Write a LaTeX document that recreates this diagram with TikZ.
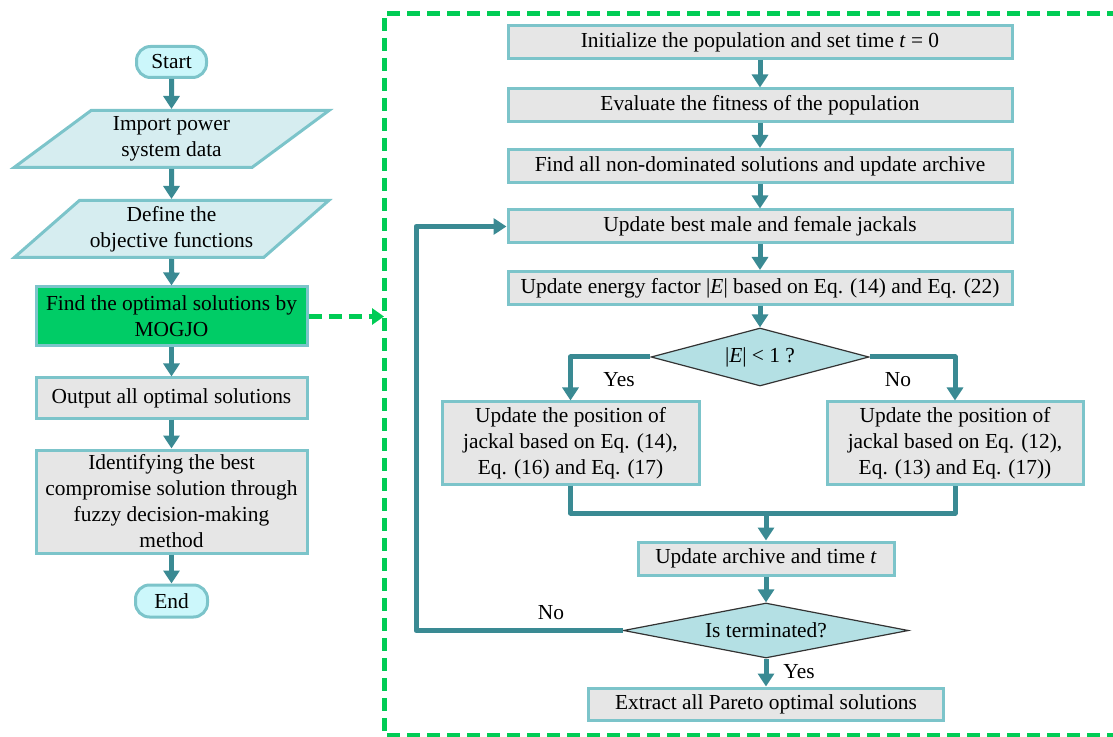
\documentclass[tikz,border=0pt]{standalone}
\usepackage{fontspec}
\setmainfont{Liberation Serif}
\usepackage{tikz}
\usetikzlibrary{shapes.geometric, arrows.meta}
\definecolor{flow}{RGB}{58,138,147}
\definecolor{rim}{RGB}{124,196,202}
\definecolor{boxfill}{RGB}{230,230,230}
\definecolor{parafill}{RGB}{214,237,240}
\definecolor{termfill}{RGB}{204,247,251}
\definecolor{decfill}{RGB}{180,224,228}
\definecolor{mogreen}{RGB}{0,204,102}
\definecolor{dashgreen}{RGB}{0,204,85}

\begin{document}
\begin{tikzpicture}[x=0.5pt, y=-0.5pt,
    every node/.style={font=\fontsize{10.7}{13}\selectfont, align=center, inner sep=1pt},
    stepbox/.style={draw=rim, line width=1.5pt, fill=boxfill, rectangle, minimum height=16.5pt},
    termbox/.style={draw=rim, line width=1.5pt, fill=termfill, rounded corners=7pt, minimum height=15.5pt},
    iobox/.style={draw=rim, line width=1.5pt, fill=parafill, trapezium, trapezium left angle=40,
        trapezium right angle=140, trapezium stretches=true, minimum width=157.5pt, minimum height=28.5pt},
    decide/.style={draw=black!80, line width=0.6pt, fill=decfill, diamond, inner sep=0pt},
    flowline/.style={draw=flow, line width=2.5pt},
    flowarrow/.style={flowline, -{Triangle[width=8pt, length=6.5pt]}},
    tag/.style={inner sep=0pt}]
    \useasboundingbox (0,0) rectangle (1113,737);

    % left column: main procedure
    \node[termbox, minimum width=35pt] (start) at (171.5,62) {Start};
    \node[iobox] (import) at (171.5,139) {Import power\\system data};
    \node[iobox] (define) at (171.5,229) {Define the\\objective functions};
    \node[stepbox, fill=mogreen, minimum width=135.5pt, minimum height=29.5pt] (mogjo) at (171.5,316.5)
        {Find the optimal solutions by\\MOGJO};
    \node[stepbox, minimum width=135.5pt, minimum height=20pt] (output) at (171.5,398) {Output all optimal solutions};
    \node[stepbox, minimum width=135.5pt, minimum height=51.5pt] (ident) at (171.5,501.5)
        {Identifying the best\\compromise solution through\\fuzzy decision-making\\method};
    \node[termbox, minimum width=36pt, minimum height=16pt] (end) at (171.5,601) {End};

    \foreach \a/\b in {start/import, import/define, define/mogjo, mogjo/output, output/ident, ident/end}
        \draw[flowarrow] (\a) -- (\b);

    % right column: MOGJO
    \draw[dashgreen, line width=2.5pt, dash pattern=on 6.5pt off 3.5pt] (1120,14) -- (384,14) -- (384,735) -- (1120,735);
    \coordinate (frame) at (384,316.5);
    \draw[dashgreen, line width=2.5pt, dash pattern=on 6.5pt off 3.5pt, -{Triangle[width=8pt, length=6pt]}] (mogjo) -- (frame);

    \node[stepbox, minimum width=252pt] (init) at (760,42) {Initialize the population and set time \textit{t} = 0};
    \node[stepbox, minimum width=252pt] (eval) at (760,105.5) {Evaluate the fitness of the population};
    \node[stepbox, minimum width=252pt] (find) at (760,166) {Find all non-dominated solutions and update archive};
    \node[stepbox, minimum width=252pt] (best) at (760,226.5) {Update best male and female jackals};
    \node[stepbox, minimum width=252pt] (energy) at (760,288) {Update energy factor |\textit{E}| based on Eq. (14) and Eq. (22)};
    \node[decide, aspect=3.76, minimum width=109pt, minimum height=29pt] (isE) at (760,357) {|\textit{E}| {\textless} 1 ?};
    \node[stepbox, minimum width=128.5pt, minimum height=41pt] (left) at (570.5,443)
        {Update the position of\\jackal based on Eq. (14),\\Eq. (16) and Eq. (17)};
    \node[stepbox, minimum width=128pt, minimum height=41pt] (right) at (955,443)
        {Update the position of\\jackal based on Eq. (12),\\Eq. (13) and Eq. (17))};
    \node[stepbox, minimum width=128pt] (archive) at (766,558.5) {Update archive and time \textit{t}};
    \node[decide, aspect=5.2, minimum width=142.5pt, minimum height=27.5pt] (isT) at (766,630.5) {Is terminated?};
    \node[stepbox, minimum width=177.5pt, minimum height=16pt] (extract) at (766,704) {Extract all Pareto optimal solutions};

    \foreach \a/\b in {init/eval, eval/find, find/best, best/energy, energy/isE, isT/extract}
        \draw[flowarrow] (\a) -- (\b);
    \draw[flowarrow, line join=round] (isE.west) -| (left.north);
    \draw[flowarrow, line join=round] (isE.east) -| (right.north);
    \coordinate (merge) at (766,513);
    \draw[flowline, line join=round] (left.south) |- (merge) -| (right.south);
    \draw[flowarrow] (merge) -- (archive);
    \draw[flowarrow] (archive) -- (isT);
    \coordinate (loop) at (416,630.5);
    \draw[flowarrow, line join=round] (isT.west) -- (loop) |- (best.west);

    \node[tag] (yesE) at (619,380) {Yes};
    \node[tag] (noE) at (898,380) {No};
    \node[tag] (noT) at (551,613) {No};
    \node[tag] (yesT) at (799,672) {Yes};
\end{tikzpicture}
\end{document}
